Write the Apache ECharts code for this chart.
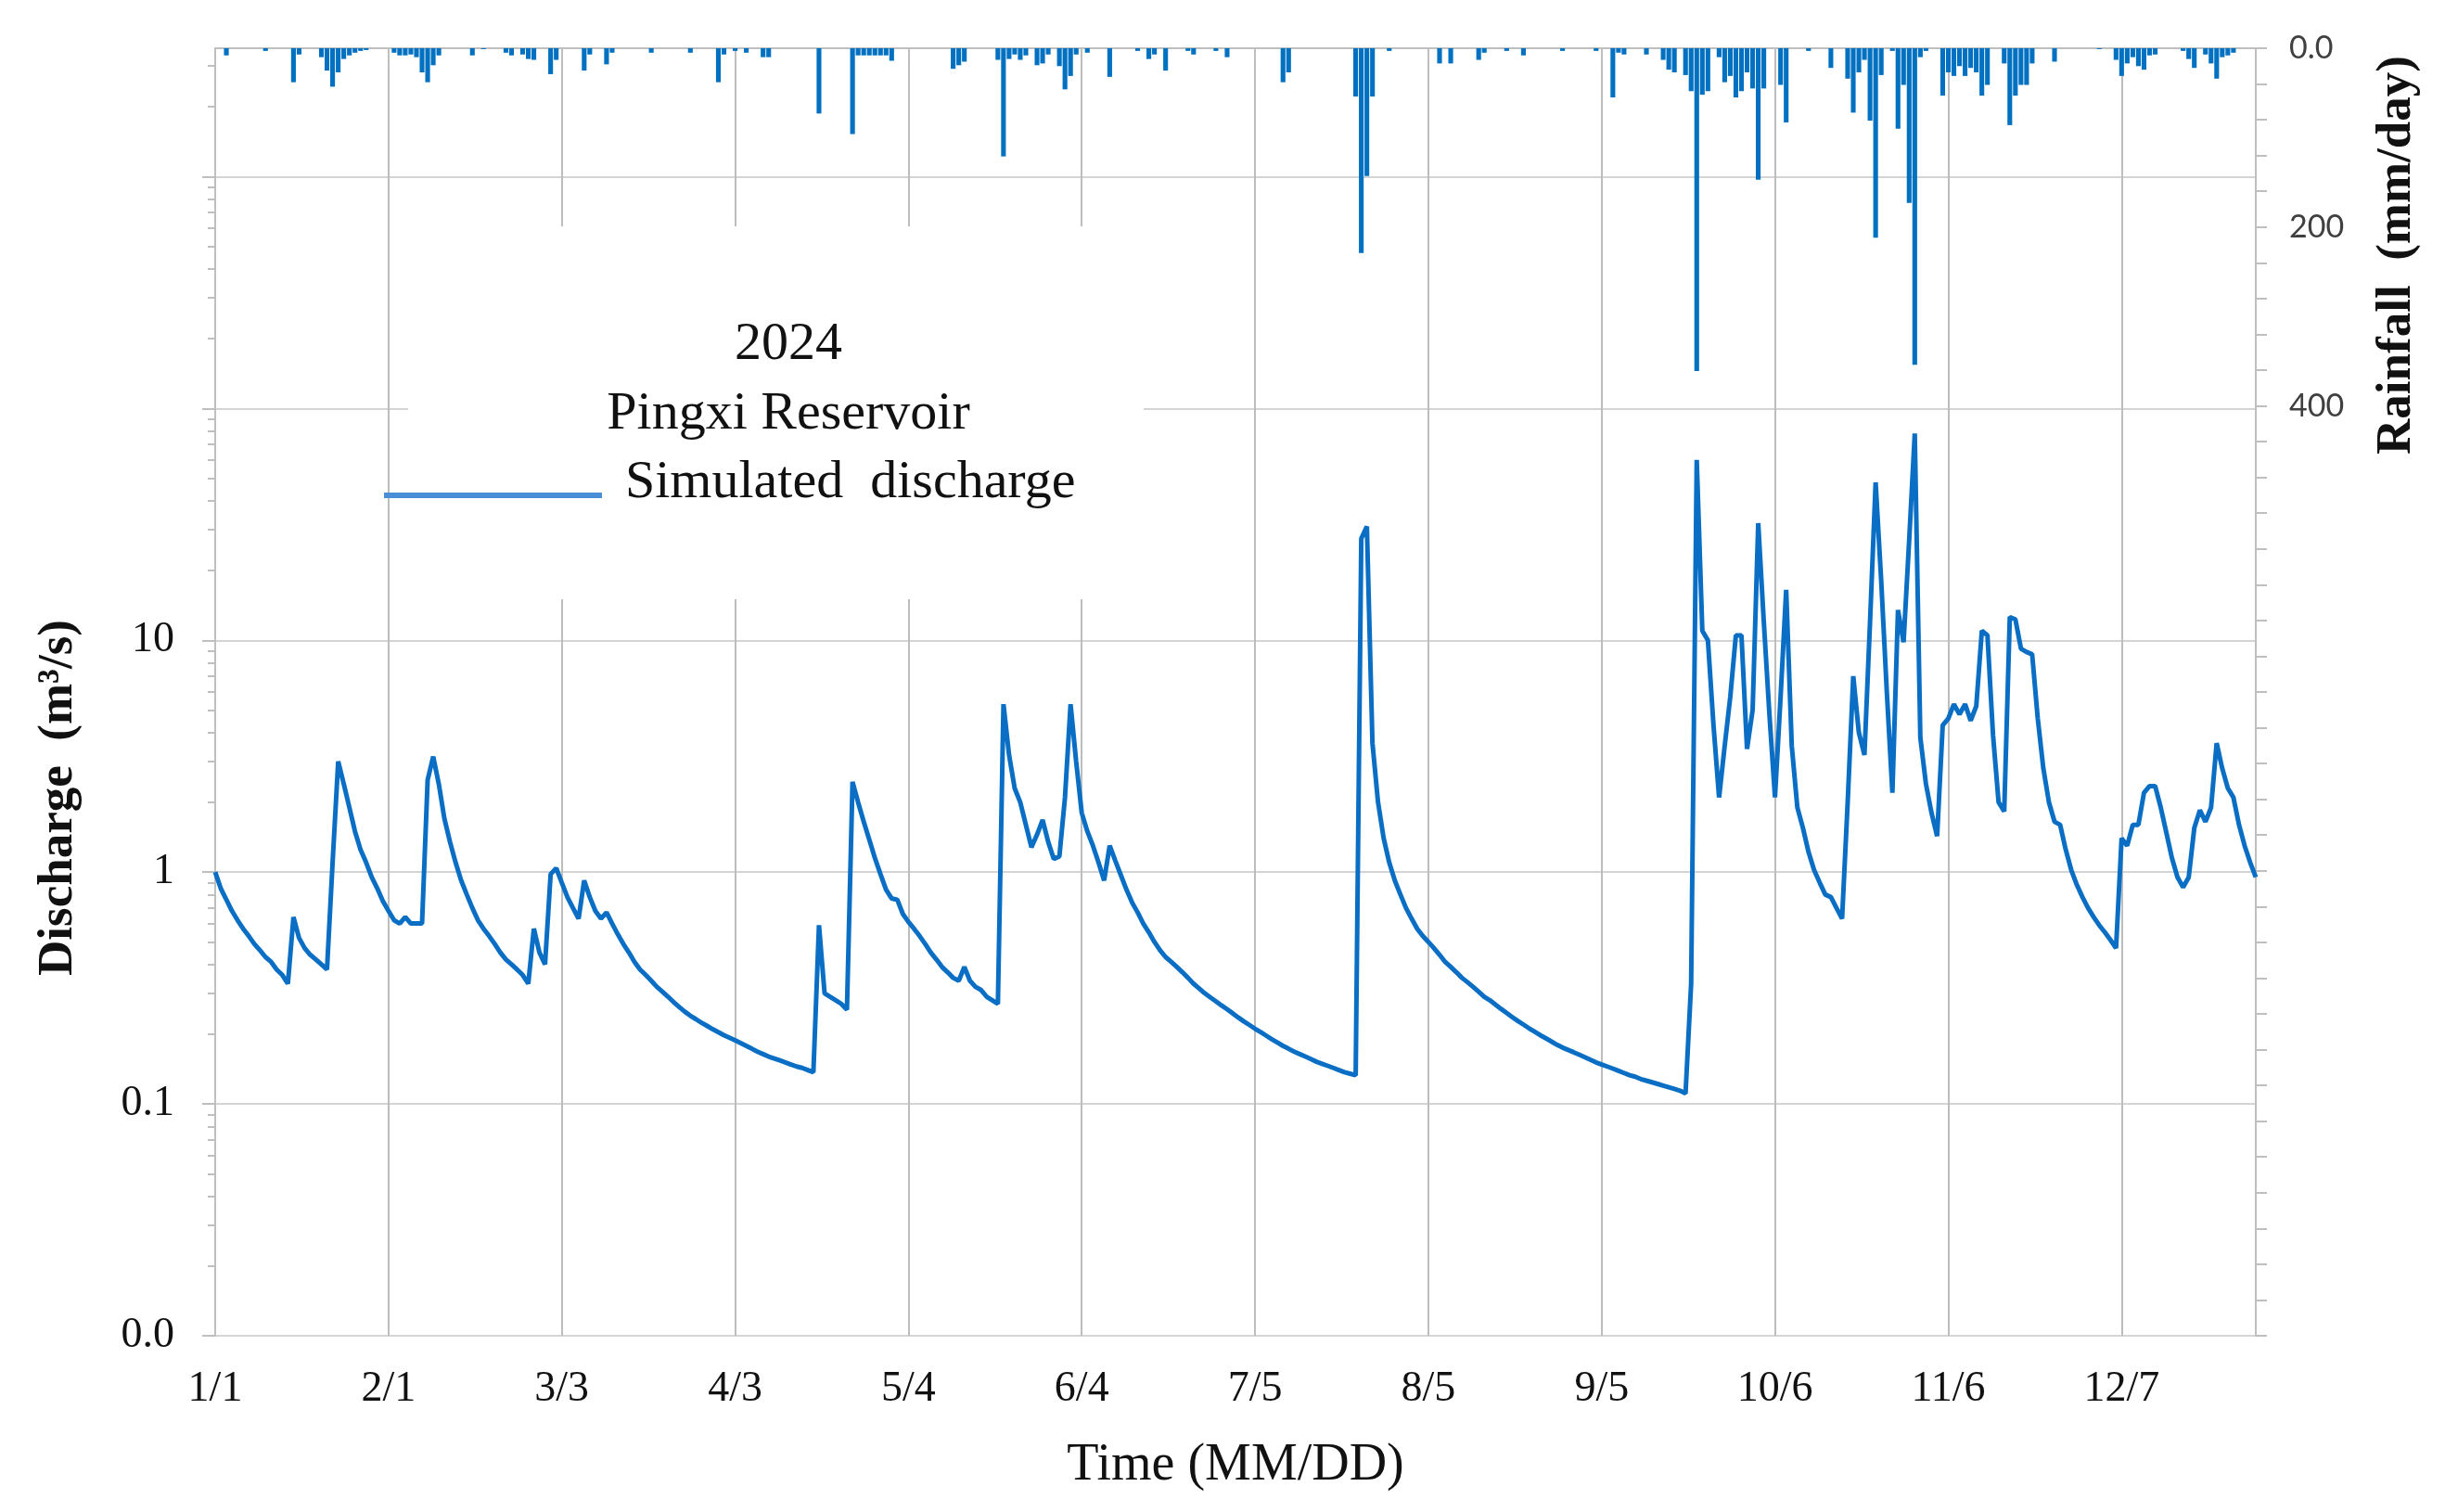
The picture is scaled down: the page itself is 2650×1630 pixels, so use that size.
<!DOCTYPE html>
<html>
<head>
<meta charset="utf-8">
<title>Pingxi Reservoir 2024</title>
<script src="https://cdn.jsdelivr.net/npm/echarts@6/dist/echarts.min.js"></script>
<style>
html, body { margin: 0; padding: 0; background: #fff; }
#chart { width: 2650px; height: 1630px; }
</style>
</head>
<body>
<div id="chart"></div>
<script>
// 模拟流量 m3/s, 2024-01-01 .. 2024-12-31, one row per month
var discharge = [
    1.0,0.85,0.76,0.68,0.62,0.57,0.53,0.49,0.46,0.43,0.41,0.38,0.36,0.33,0.64,0.52,0.47,0.44,0.42,0.40,0.38,1.1,3.0,2.4,1.9,1.5,1.25,1.1,0.95,0.85,0.75,
    0.68,0.62,0.6,0.64,0.6,0.6,0.6,2.5,3.15,2.4,1.7,1.35,1.1,0.92,0.8,0.7,0.62,0.57,0.53,0.49,0.45,0.42,0.4,0.38,0.36,0.33,0.57,0.45,0.40,
    0.98,1.04,0.9,0.78,0.7,0.63,0.92,0.78,0.68,0.63,0.67,0.6,0.54,0.49,0.45,0.41,0.38,0.36,0.34,0.32,0.305,0.29,0.275,0.262,0.25,0.24,0.232,0.224,0.217,0.21,0.204,
    0.198,0.193,0.188,0.183,0.178,0.173,0.168,0.164,0.16,0.157,0.154,0.151,0.148,0.145,0.143,0.14,0.137,0.59,0.3,0.29,0.28,0.27,0.255,2.45,2.0,1.65,1.38,1.15,0.98,0.84,
    0.77,0.76,0.66,0.61,0.57,0.53,0.49,0.45,0.42,0.39,0.37,0.35,0.34,0.39,0.34,0.32,0.31,0.29,0.28,0.27,5.3,3.2,2.3,2.0,1.6,1.28,1.45,1.68,1.35,1.14,1.17,
    2.1,5.3,3.0,1.8,1.5,1.3,1.1,0.92,1.3,1.12,0.97,0.84,0.74,0.67,0.6,0.55,0.5,0.46,0.43,0.41,0.39,0.37,0.35,0.33,0.315,0.30,0.288,0.277,0.266,0.256,
    0.246,0.236,0.227,0.219,0.211,0.204,0.197,0.19,0.184,0.178,0.173,0.168,0.164,0.16,0.156,0.152,0.149,0.146,0.143,0.14,0.137,0.135,0.133,27.5,31,3.6,2.0,1.4,1.1,0.92,0.8,
    0.7,0.63,0.57,0.53,0.5,0.47,0.44,0.41,0.39,0.37,0.35,0.335,0.32,0.305,0.29,0.28,0.268,0.257,0.247,0.237,0.228,0.22,0.212,0.205,0.198,0.192,0.186,0.18,0.175,0.171,0.167,
    0.163,0.159,0.155,0.151,0.148,0.145,0.142,0.139,0.136,0.133,0.131,0.128,0.126,0.124,0.122,0.12,0.118,0.116,0.114,0.111,0.33,60,11,10,4.3,2.1,3.5,5.7,10.5,10.5,
    3.4,5.0,32,12,4.8,2.1,5.7,16.5,3.5,1.9,1.55,1.22,1.02,0.9,0.8,0.78,0.7,0.63,2.0,7.0,4.0,3.2,12,48,18,6.0,2.2,13.5,9.8,27,78,
    3.8,2.4,1.8,1.43,4.3,4.6,5.3,4.8,5.3,4.5,5.2,11,10.5,3.9,2.0,1.83,12.6,12.3,9.2,8.9,8.7,4.6,2.8,2.0,1.65,1.6,1.25,1.02,0.88,0.78,
    0.7,0.64,0.59,0.55,0.51,0.47,1.4,1.3,1.6,1.6,2.2,2.35,2.35,1.9,1.48,1.15,0.95,0.86,0.95,1.55,1.85,1.65,1.9,3.6,2.8,2.3,2.1,1.6,1.3,1.1,0.95
];

// 日降雨 mm/day, same days
var rainfall = [
    0,0,8,0,0,0,0,0,0,3,0,0,0,0,38,7,0,0,0,10,25,43,27,12,8,5,3,2,0,0,0,
    0,5,8,8,7,10,27,38,19,8,0,0,0,0,0,8,0,1,0,0,0,5,8,0,7,12,13,0,0,
    29,13,0,0,0,0,25,7,0,0,18,5,0,0,0,0,0,0,5,0,0,0,0,0,0,5,0,0,0,0,38,
    7,0,3,0,5,0,0,10,10,0,0,0,0,0,0,0,0,73,0,0,0,0,0,96,8,8,8,8,8,8,
    14,0,0,0,0,0,0,0,0,0,0,23,19,15,0,0,0,0,0,13,121,12,7,13,8,0,19,17,7,0,20,
    46,31,7,0,5,0,0,0,32,0,0,0,0,3,0,12,7,0,25,0,0,0,3,7,0,0,0,3,0,10,
    0,0,0,0,0,0,0,0,0,38,27,0,0,0,0,0,0,0,0,0,0,0,54,229,143,54,0,0,3,0,0,
    0,0,0,0,0,0,17,0,17,0,0,0,0,13,5,0,0,0,3,0,0,8,0,0,0,0,0,0,3,0,0,
    0,0,0,3,0,0,55,5,7,0,0,0,7,0,0,13,24,27,0,30,48,361,52,48,0,10,38,31,55,48,
    27,45,147,45,0,0,41,83,0,0,0,3,0,0,0,22,0,0,34,72,27,13,81,212,30,0,3,90,41,173,354,
    10,3,0,0,53,27,31,20,31,22,27,53,41,0,0,17,86,53,41,41,17,0,0,0,15,0,0,0,0,0,
    0,0,1,0,0,13,31,17,10,20,24,8,7,0,0,0,0,3,12,22,0,7,17,34,10,8,5,0,0,0,0
];

// 坐标轴刻度
var flowLabels = [0.01, 0.1, 1, 10];
var flowMajor = [0.01, 0.1, 1, 10, 100, 1000];
var rainLabels = [0, 200, 400];
var flowMin = 0.01, flowMax = 3580;
var rainMax = 1440;

var days = [];
var day = new Date(2024, 0, 1);
for (var i = 0; i < discharge.length; i++) {
    days.push((day.getMonth() + 1) + '/' + day.getDate());
    day.setDate(day.getDate() + 1);
}

var flowMinor = [];
flowMajor.forEach(function (p) {
    for (var m = 2; m <= 9; m++) {
        if (p * m < flowMax) flowMinor.push(+(p * m).toPrecision(3));
    }
});

var serif = "'Liberation Serif', 'Times New Roman', serif";
var gray = '#bfbfbf';

var chart = echarts.init(document.getElementById('chart'));
var option = {
    animation: false,
    backgroundColor: '#fff',
    grid: {
        left: 232, right: 218, top: 52, bottom: 190,
        show: true, borderColor: '#c8c8c8', borderWidth: 2,
        outerBoundsMode: 'none'
    },
    xAxis: {
        type: 'category',
        data: days,
        boundaryGap: false,
        name: 'Time (MM/DD)',
        nameLocation: 'middle',
        nameGap: 112,
        nameTextStyle: { fontFamily: serif, fontSize: 56, color: '#111' },
        axisLine: { lineStyle: { color: gray, width: 2 } },
        axisTick: { show: true, interval: 30, length: 14, lineStyle: { color: gray, width: 2 } },
        axisLabel: { interval: 30, margin: 35, fontFamily: serif, fontSize: 46, color: '#111' },
        splitLine: { show: true, interval: 30, lineStyle: { color: '#bdbdbd', width: 2 } }
    },
    yAxis: [
        {
            type: 'log',
            logBase: 10,
            min: flowMin, max: flowMax,
            position: 'left',
            axisLine: { show: true, lineStyle: { color: gray, width: 2 } },
            axisTick: { show: true, customValues: flowMajor, length: 14, lineStyle: { color: gray, width: 2 } },
            axisLabel: {
                customValues: flowLabels,
                margin: 44,
                fontFamily: serif, fontSize: 46, color: '#111',
                formatter: function (v) {
                    if (v > 11) return '';
                    if (v < 0.05) return '0.0';
                    return String(+v.toPrecision(2));
                }
            },
            splitLine: { show: true, lineStyle: { color: '#d4d4d4', width: 2 } }
        },
        {
            // 对数次刻度
            type: 'log',
            logBase: 10,
            min: flowMin, max: flowMax,
            position: 'left',
            axisLine: { show: false },
            axisTick: { show: true, customValues: flowMinor, length: 8, lineStyle: { color: gray, width: 2 } },
            axisLabel: { show: false },
            splitLine: { show: false }
        },
        {
            type: 'value',
            position: 'right',
            inverse: true,
            min: 0, max: rainMax, interval: 40,
            axisLine: { show: true, lineStyle: { color: gray, width: 2 } },
            axisTick: { show: true, length: 12, lineStyle: { color: gray, width: 2 } },
            axisLabel: {
                customValues: rainLabels,
                margin: 36,
                fontFamily: "'Liberation Sans Narrow', 'Lato', sans-serif",
                fontSize: 34, color: '#404040',
                formatter: function (v) {
                    if (rainLabels.indexOf(v) < 0) return '';
                    return v === 0 ? '0.0' : String(v);
                }
            },
            splitLine: { show: false }
        }
    ],
    graphic: [
        // 图例框
        { type: 'rect', z: 1, shape: { x: 440, y: 244, width: 793, height: 402 }, style: { fill: '#fff' } },
        { type: 'text', z: 5, x: 850, y: 372,
          style: { text: '2024', font: '58px ' + serif, fill: '#111', textAlign: 'center', textVerticalAlign: 'middle' } },
        { type: 'text', z: 5, x: 850, y: 447,
          style: { text: 'Pingxi Reservoir', font: '58px ' + serif, fill: '#111', textAlign: 'center', textVerticalAlign: 'middle' } },
        { type: 'line', z: 5, shape: { x1: 414, y1: 534, x2: 649, y2: 534 }, style: { stroke: '#4a8fd6', lineWidth: 6 } },
        { type: 'text', z: 5, x: 674, y: 521,
          style: { text: 'Simulated  discharge', font: '58px ' + serif, fill: '#111', textAlign: 'left', textVerticalAlign: 'middle' } },
        // 轴标题
        { type: 'text', z: 5, x: 63, y: 860, rotation: Math.PI / 2,
          style: { text: 'Discharge  (m³/s)', font: 'bold 53px ' + serif, fill: '#111', textAlign: 'center', textVerticalAlign: 'middle' } },
        { type: 'text', z: 5, x: 2584, y: 275, rotation: Math.PI / 2,
          style: { text: 'Rainfall  (mm/day)', font: 'bold 53px ' + serif, fill: '#111', textAlign: 'center', textVerticalAlign: 'middle' } }
    ],
    series: [
        {
            name: 'Rainfall',
            type: 'bar',
            yAxisIndex: 2,
            data: rainfall,
            barWidth: '85%',
            itemStyle: { color: '#0070c0' },
            z: 2
        },
        {
            name: 'Simulated  discharge',
            type: 'line',
            yAxisIndex: 0,
            data: discharge,
            showSymbol: false,
            symbol: 'none',
            lineStyle: { color: '#0a6fc4', width: 5 },
            itemStyle: { color: '#0a6fc4' },
            z: 3
        }
    ]
};
chart.setOption(option);

window.addEventListener('resize', function () {
    chart.resize();
});
</script>
</body>
</html>
